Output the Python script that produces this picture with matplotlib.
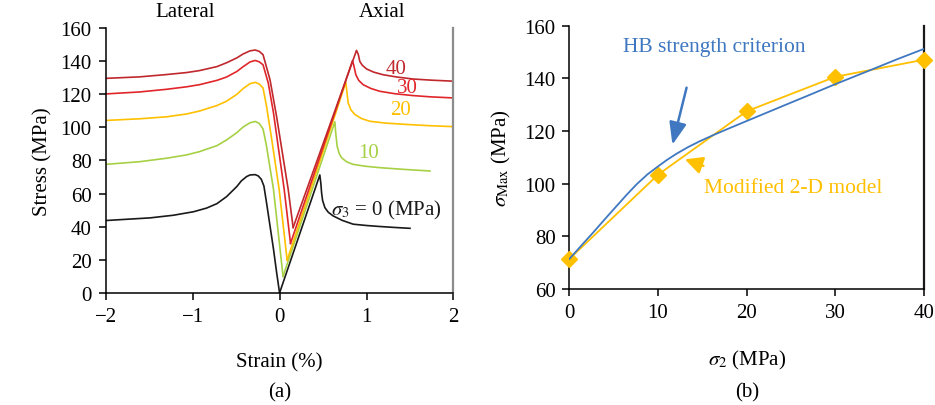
import matplotlib
matplotlib.use("Agg")
import matplotlib.pyplot as plt

plt.rcParams["font.family"] = ["Liberation Serif", "DejaVu Serif"]
plt.rcParams["mathtext.fontset"] = "stix"
plt.rcParams["font.size"] = 15

####################################################
# Data (a): stress-strain curves

confining = ["0", "10", "20", "30", "40"]
colors = ["#1a1a1a", "#a6d145", "#ffc000", "#e0262a", "#c0282d"]

lat_x_0 = [-2.0, -1.49, -1.22, -0.99, -0.84, -0.72, -0.61, -0.49, -0.44, -0.38, -0.34,
           -0.28, -0.245, -0.21, -0.18, -0.15, -0.11, -0.07, -0.034, 0.0]
lat_y_0 = [43.7, 45.3, 46.9, 49.0, 51.2, 53.9, 58.1, 64.3, 67.6, 70.2, 71.2,
           71.4, 70.6, 68.6, 64.5, 54.5, 40.5, 26.5, 12.4, 0.0]
ax_x_0 = [0.0, 0.463, 0.475, 0.483, 0.495, 0.521, 0.56, 0.616, 0.72, 0.846, 1.0,
          1.153, 1.33, 1.5]
ax_y_0 = [0.0, 71.2, 66.0, 60.6, 55.8, 51.5, 48.7, 46.5, 43.8, 41.5, 40.7,
          40.1, 39.5, 39.0]

lat_x_10 = [-2.0, -1.61, -1.30, -1.07, -0.92, -0.72, -0.61, -0.49, -0.42, -0.34,
            -0.28, -0.234, -0.19, -0.15, -0.11, -0.07, 0.04]
lat_y_10 = [77.6, 79.2, 81.3, 83.3, 85.3, 88.9, 92.3, 96.8, 100.1, 102.7,
            103.5, 102.3, 99.0, 88.6, 75.6, 62.6, 10.0]
ax_x_10 = [0.04, 0.636, 0.645, 0.662, 0.685, 0.713, 0.77, 0.846, 0.98, 1.153, 1.45, 1.73]
ax_y_10 = [10.0, 103.3, 97.0, 88.6, 84.3, 81.6, 79.2, 77.6, 76.5, 75.6, 74.5, 73.6]

lat_x_20 = [-2.0, -1.61, -1.30, -1.07, -0.92, -0.72, -0.61, -0.49, -0.42, -0.34,
            -0.28, -0.234, -0.19, -0.15, -0.09, -0.005, 0.087]
lat_y_20 = [104.1, 105.1, 106.3, 108.0, 109.8, 113.1, 115.7, 119.9, 123.3, 126.3,
            127.1, 126.1, 123.7, 112.7, 92.6, 62.6, 19.8]
ax_x_20 = [0.087, 0.762, 0.775, 0.789, 0.82, 0.866, 0.94, 1.038, 1.22, 1.46, 1.7, 1.98]
ax_y_20 = [19.8, 127.1, 121.0, 114.7, 110.5, 107.7, 105.3, 103.6, 102.5, 101.7, 101.0, 100.4]

lat_x_30 = [-2.0, -1.61, -1.30, -1.07, -0.92, -0.72, -0.61, -0.49, -0.42, -0.34,
            -0.28, -0.234, -0.19, -0.13, -0.07, 0.053, 0.126]
lat_y_30 = [120.1, 121.3, 122.9, 124.4, 125.7, 128.3, 130.3, 133.7, 136.5, 139.4,
            140.3, 139.5, 137.7, 126.7, 108.7, 62.6, 29.9]
ax_x_30 = [0.126, 0.839, 0.855, 0.877, 0.91, 0.961, 1.05, 1.153, 1.33, 1.536, 1.75, 2.0]
ax_y_30 = [29.9, 140.2, 137.0, 131.7, 128.3, 125.7, 123.4, 121.7, 120.2, 119.1, 118.3, 117.7]

lat_x_40 = [-2.0, -1.61, -1.30, -1.07, -0.92, -0.72, -0.61, -0.49, -0.42, -0.34,
            -0.28, -0.234, -0.19, -0.11, -0.034, 0.099, 0.156]
lat_y_40 = [129.5, 130.4, 131.8, 133.0, 134.2, 136.6, 138.9, 141.9, 144.2, 146.1,
            146.6, 145.8, 143.8, 128.7, 106.4, 62.6, 39.5]
ax_x_40 = [0.156, 0.885, 0.905, 0.923, 0.95, 1.0, 1.08, 1.19, 1.35, 1.536, 1.75, 2.0]
ax_y_40 = [39.5, 146.4, 144.0, 139.7, 137.5, 135.2, 133.3, 131.7, 130.3, 129.1, 128.4, 127.8]

lat_x = [lat_x_0, lat_x_10, lat_x_20, lat_x_30, lat_x_40]
lat_y = [lat_y_0, lat_y_10, lat_y_20, lat_y_30, lat_y_40]
axi_x = [ax_x_0, ax_x_10, ax_x_20, ax_x_30, ax_x_40]
axi_y = [ax_y_0, ax_y_10, ax_y_20, ax_y_30, ax_y_40]

# Data (b): peak strength vs sigma_2
sigma2 = [0, 10, 20, 30, 40]
model_2d = [71.4, 103.4, 127.5, 140.6, 147.1]
hb_x = [0, 1.3, 2.7, 4.0, 5.3, 6.5, 7.6, 8.8, 9.9, 11.0, 12.1, 13.4, 14.7, 16.2,
        17.8, 19.5, 21.5, 24.0, 26.8, 30.0, 34.3, 37.0, 40]
hb_y = [71.4, 76.3, 81.5, 86.5, 91.4, 95.9, 99.8, 103.5, 106.3, 109.0, 111.4, 113.9,
        116.1, 118.4, 120.7, 123.1, 125.9, 129.4, 133.3, 137.8, 143.6, 147.3, 151.2]

blue = "#3f78c0"
orange = "#ffc000"


def style_axes(ax, right_color):
    ax.spines["top"].set_visible(False)
    ax.spines["right"].set_color(right_color)
    ax.spines["right"].set_linewidth(1.6)
    for s in ["left", "bottom"]:
        ax.spines[s].set_linewidth(1.1)
    ax.tick_params(direction="out", length=5, width=1.1, labelsize=15, pad=5)
    ax.tick_params(axis="y", right=False)


fig = plt.figure(figsize=(9.35, 4.06), dpi=100)

####################################################
# (a)
ax1 = fig.add_axes([0.113, 0.276, 0.372, 0.653])
for i in range(len(confining)):
    ax1.plot(lat_x[i], lat_y[i], color=colors[i], lw=1.2)
    ax1.plot(axi_x[i], axi_y[i], color=colors[i], lw=1.2)

ax1.set_xlim(-2, 2)
ax1.set_ylim(0, 160)
ax1.set_xticks([-2, -1, 0, 1, 2])
ax1.set_yticks(range(0, 161, 20))
style_axes(ax1, "#8c8c8c")
ax1.set_ylabel("Stress (MPa)", fontsize=15, labelpad=6)

ax1.text(-1.09, 164, "Lateral", ha="center", va="bottom", fontsize=15)
ax1.text(1.18, 164, "Axial", ha="center", va="bottom", fontsize=15)
ax1.text(1.34, 135.2, "40", color=colors[4], ha="center", va="center", fontsize=15)
ax1.text(1.47, 124.1, "30", color=colors[3], ha="center", va="center", fontsize=15)
ax1.text(1.39, 110.7, "20", color=colors[2], ha="center", va="center", fontsize=15)
ax1.text(1.02, 85.0, "10", color=colors[1], ha="center", va="center", fontsize=15)
ax1.text(0.59, 50.5, r"$\sigma_3$ = 0 (MPa)", color="#1a1a1a", ha="left", va="center", fontsize=15)

fig.text(0.299, 0.106, "Strain (%)", ha="center", va="center", fontsize=15)
fig.text(0.299, 0.033, "(a)", ha="center", va="center", fontsize=15)

####################################################
# (b)
ax2 = fig.add_axes([0.609, 0.286, 0.379, 0.648])
ax2.plot(sigma2, model_2d, color=orange, lw=1.3, marker="D", markersize=8.5,
         markeredgecolor=orange, clip_on=False, zorder=3)
ax2.plot(hb_x, hb_y, color=blue, lw=1.3, zorder=4)

ax2.set_xlim(0, 40)
ax2.set_ylim(60, 160)
ax2.set_xticks(range(0, 41, 10))
ax2.set_yticks(range(60, 161, 20))
style_axes(ax2, "#1a1a1a")
ax2.set_ylabel(r"$\sigma_{\mathrm{Max}}$ (MPa)", fontsize=15, labelpad=8)

ax2.text(16.3, 152, "HB strength criterion", color=blue, ha="center", va="center", fontsize=15.5)
ax2.annotate("", xy=(11.55, 113.8), xytext=(13.3, 137.5),
             arrowprops=dict(arrowstyle="-|>,head_length=0.9,head_width=0.35", color=blue, lw=1.8))
ax2.text(25.3, 98.5, "Modified 2-D model", color=orange, ha="center", va="center", fontsize=15.5)
ax2.annotate("", xy=(12.74, 109.6), xytext=(15.42, 106.4),
             arrowprops=dict(arrowstyle="-|>,head_length=0.7,head_width=0.35", color=orange, lw=1.8))

fig.text(0.799, 0.113, r"$\sigma_2$ (MPa)", ha="center", va="center", fontsize=15)
fig.text(0.799, 0.033, "(b)", ha="center", va="center", fontsize=15)

plt.savefig("out.png", dpi=100)
plt.close("all")
